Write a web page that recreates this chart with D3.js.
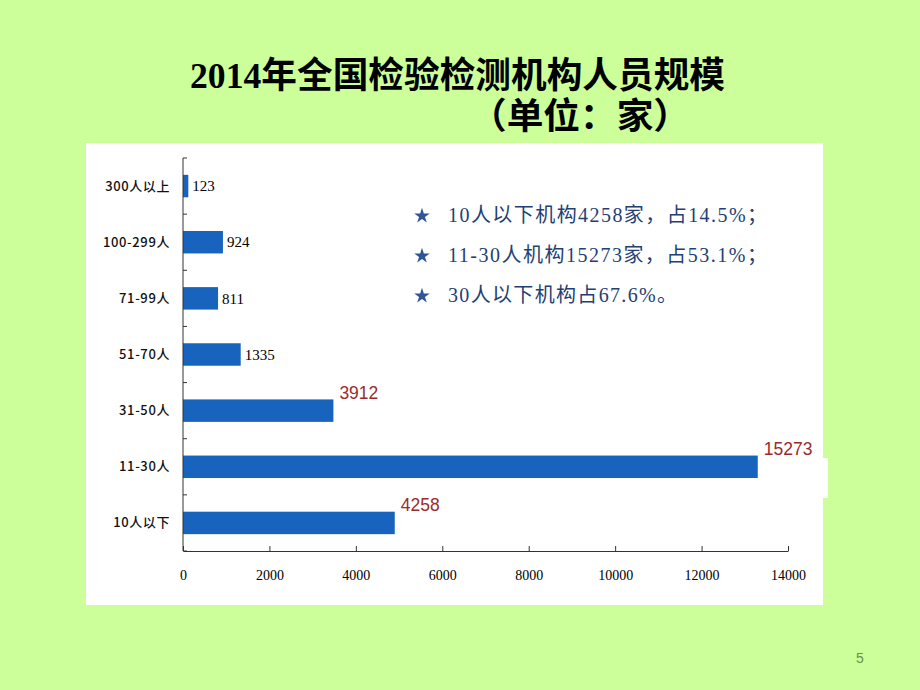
<!DOCTYPE html>
<html>
<head>
<meta charset="utf-8">
<script src="https://cdn.jsdelivr.net/npm/d3@7"></script>
<style>
  html, body { margin: 0; padding: 0; background: #CCFF99; }
  svg { display: block; }
</style>
</head>
<body>
<svg id="chart" width="920" height="690"></svg>
<script>
// ---- data ----
const categories = ["300人以上", "100-299人", "71-99人", "51-70人", "31-50人", "11-30人", "10人以下"];
// bar lengths as drawn in the picture
const barValues = [123, 924, 811, 1335, 3480, 13300, 4900];
// value labels printed next to bars
const valueLabels = ["123", "924", "811", "1335", "3912", "15273", "4258"];
// which labels are highlighted (red)
const highlighted = [false, false, false, false, true, true, true];
const xTicks = [0, 2000, 4000, 6000, 8000, 10000, 12000, 14000];
const titleLine1 = "2014年全国检验检测机构人员规模";
const titleLine2 = "（单位：家）";
const bullets = ["10人以下机构4258家，占14.5%；", "11-30人机构15273家，占53.1%；", "30人以下机构占67.6%。"];
const pageNumber = "5";

// ---- drawing ----
const svg = d3.select("#chart");
const W = 920, H = 690;

svg.append("rect").attr("width", W).attr("height", H).attr("fill", "#CCFF99");

// white chart panel
svg.append("rect").attr("x", 86).attr("y", 143).attr("width", 737).attr("height", 462).attr("fill", "#ffffff");
svg.append("rect").attr("x", 820).attr("y", 458).attr("width", 8).attr("height", 40).attr("fill", "#ffffff");

// title
const titleFont = "'Liberation Serif', 'Noto Sans CJK SC', serif";
svg.append("text").attr("x", 190).attr("y", 88)
  .attr("font-family", titleFont).attr("font-size", 36).attr("font-weight", "bold")
  .attr("fill", "#000").attr("textLength", 535).attr("lengthAdjust", "spacingAndGlyphs")
  .text(titleLine1);
svg.append("text").attr("x", 470).attr("y", 129)
  .attr("font-family", titleFont).attr("font-size", 36).attr("font-weight", "bold")
  .attr("fill", "#000").attr("textLength", 220).attr("lengthAdjust", "spacingAndGlyphs")
  .text(titleLine2);

// scales
const x0 = 183, x1 = 788, yTop = 158, yBot = 551;
const x = d3.scaleLinear().domain([0, 14000]).range([x0, x1]);
const y = d3.scaleBand().domain(categories).range([yTop, yBot]).paddingInner(0.6).paddingOuter(0.3);

// bars
svg.append("g").selectAll("rect").data(categories).join("rect")
  .attr("x", x(0))
  .attr("y", d => y(d))
  .attr("width", (d, i) => x(barValues[i]) - x(0))
  .attr("height", y.bandwidth())
  .attr("fill", "#1763BE");

// x axis
const xAxis = d3.axisBottom(x).tickValues(xTicks).tickSizeInner(-5).tickSizeOuter(0).tickPadding(19)
  .tickFormat(d3.format("d"));
const gx = svg.append("g").attr("transform", `translate(0,${yBot})`).call(xAxis);
gx.select(".domain").attr("stroke", "#333");
gx.selectAll(".tick line").attr("stroke", "#333");
gx.selectAll(".tick text").attr("font-family", "'Liberation Serif', serif").attr("font-size", 14).attr("fill", "#000");

// y axis line + boundary ticks
svg.append("line").attr("x1", x0).attr("x2", x0).attr("y1", yTop).attr("y2", yBot).attr("stroke", "#333");
const step = y.step();
const boundaries = categories.map(c => y(c) - step * y.paddingInner() / 2).concat([yBot]);
svg.append("g").selectAll("line").data(boundaries).join("line")
  .attr("x1", x0).attr("x2", x0 + 4).attr("y1", d => d).attr("y2", d => d).attr("stroke", "#333");

// category labels
svg.append("g").selectAll("text").data(categories).join("text")
  .attr("x", 170).attr("y", d => y(d) + y.bandwidth() / 2).attr("dy", "0.35em")
  .attr("text-anchor", "end")
  .attr("font-family", "'Noto Sans CJK SC', sans-serif").attr("font-size", 13).attr("font-weight", 500)
  .attr("letter-spacing", 0.6)
  .attr("fill", "#111")
  .text(d => d);

// value labels
svg.append("g").selectAll("text").data(categories).join("text")
  .attr("x", (d, i) => x(barValues[i]) + (highlighted[i] ? 6 : 4))
  .attr("y", (d, i) => highlighted[i] ? y(d) - 7 : y(d) + y.bandwidth() / 2)
  .attr("dy", "0.35em")
  .attr("font-family", (d, i) => highlighted[i] ? "'Liberation Sans', Arial, sans-serif" : "'Liberation Serif', serif")
  .attr("font-size", (d, i) => highlighted[i] ? 17.5 : 15)
  .attr("fill", (d, i) => highlighted[i] ? "#9B2B2B" : "#000")
  .text((d, i) => valueLabels[i]);

// bullets
const bulletWidths = [319, 319, 229];
const bg = svg.append("g");
bullets.forEach((t, i) => {
  const cy = 215 + i * 40;
  bg.append("path").attr("d", d3.symbol(d3.symbolStar, 75)())
    .attr("transform", `translate(422,${cy + 1})`).attr("fill", "#2E5597");
  bg.append("text").attr("x", 448).attr("y", cy).attr("dy", "0.36em")
    .attr("font-family", "'Liberation Serif', 'Noto Sans CJK SC', serif").attr("font-size", 20)
    .attr("fill", "#243F73").attr("textLength", bulletWidths[i]).attr("lengthAdjust", "spacing")
    .text(t);
});

// page number
svg.append("text").attr("x", 860).attr("y", 663).attr("text-anchor", "middle")
  .attr("font-family", "'Liberation Sans', Arial, sans-serif").attr("font-size", 14)
  .attr("fill", "#6B8E50").text(pageNumber);
</script>
</body>
</html>
